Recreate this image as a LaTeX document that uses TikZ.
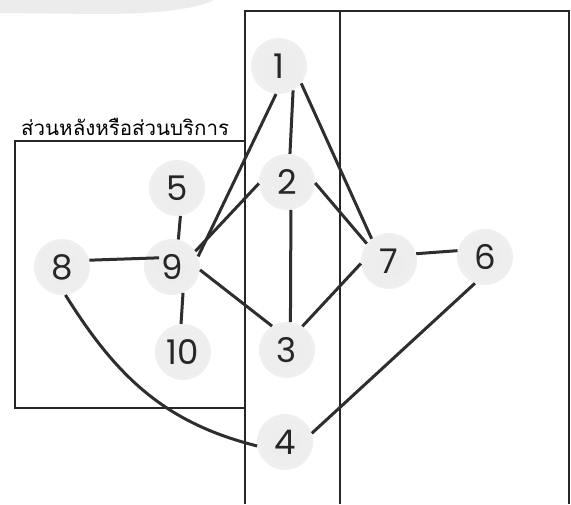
\documentclass[tikz,border=0pt]{standalone}
\usepackage{fontspec}
\setmainfont{Poppins}
\newfontfamily\thaifont[Script=Thai]{Loma}
\usepackage{tikz}
\pgfdeclareradialshading{halo}{\pgfpointorigin}{color(0bp)=(gray!15); color(32bp)=(gray!12); color(50bp)=(white)}
\tikzset{
  room/.style={circle, shading=halo, minimum size=56pt, inner sep=0pt, text=black!85, font=\fontsize{34}{34}\selectfont},
  link/.style={line width=3pt, black!82},
  wall/.style={line width=1.6pt, black!85}
}

\begin{document}
\begin{tikzpicture}[x=1pt,y=-1pt]
  \useasboundingbox (0,0) rectangle (571,504);
  \fill[gray!15] (0,0) -- (214,0) .. controls (195,10) and (150,14) .. (100,14) -- (0,13) -- cycle;
  \draw[wall] (245,504) -- (245,11) -- (569,11) -- (569,504);
  \draw[wall] (340,11) -- (340,504);
  \draw[wall] (245,141) -- (15,141) -- (15,408) -- (245,408);
  \node[anchor=south west, inner sep=0pt, font=\fontsize{20.5}{20.5}\selectfont] (zone) at (21,136) {\thaifont ส่วนหลังหรือส่วนบริการ};
  \node[room] (n1) at (279,66) {1};
  \node[room] (n2) at (287,182) {2};
  \node[room] (n3) at (287,350) {3};
  \node[room] (n4) at (285,442) {4};
  \node[room] (n5) at (177,188) {5};
  \node[room] (n6) at (485,257) {6};
  \node[room] (n7) at (389,261) {7};
  \node[room] (n8) at (62,267) {8};
  \node[room] (n9) at (172,267) {9};
  \node[room] (n10) at (183,352) {10};
  \draw[link] (n1.-96) -- (n9.22);
  \draw[link] (n1.-60) -- (n2.84);
  \draw[link] (n1.-38) -- (n7.128);
  \draw[link] (n2.183) -- (n9.34);
  \draw[link] (n2.-2) -- (n7.142);
  \draw[link] (n2.-82) -- (n3.83);
  \draw[link] (n9.-6) -- (n3.122);
  \draw[link] (n3.57) -- (n7.-175);
  \draw[link] (n5.-83) -- (n9.77);
  \draw[link] (n9.-67) -- (n10.94);
  \draw[link, shorten >=-14pt] (n8.14) -- (n9.162);
  \draw[link] (n7.15) -- (n6.167);
  \draw[link] (n6.-111) -- (n4.18);
  \draw[link] (n8.-83) to[out=-58,in=166] (n4.188);
\end{tikzpicture}
\end{document}
